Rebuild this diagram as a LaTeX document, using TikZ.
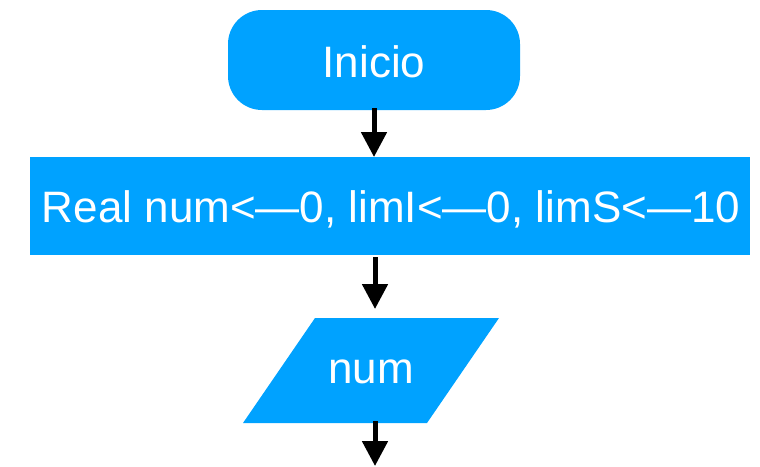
\documentclass[tikz,border=0pt]{standalone}
\usepackage{fontspec}
\setmainfont{Liberation Sans}
\usetikzlibrary{arrows.meta,shapes.geometric}
\definecolor{fcblue}{RGB}{0,162,255}
\tikzset{
  shapebox/.style={fill=fcblue,draw=none},
  boxtext/.style={text=white,font=\fontsize{44}{50}\selectfont,inner sep=0pt},
  flowarrow/.style={line width=5pt,-{Triangle[width=25pt,length=25pt]}}
}
\begin{document}
\begin{tikzpicture}[x=1pt,y=-1pt]
\useasboundingbox (0,0) rectangle (760,466);
\path[shapebox,rounded corners=34pt] (228,10) rectangle (520,110);
\node[boxtext] (inicio) at (374,62) {Inicio};
\coordinate (inicioB) at (374,108);
\path[shapebox] (30,157) rectangle (750,255);
\node[boxtext] (decl) at (391,209) {Real num<—0, limI<—0, limS<—10};
\coordinate (declT) at (374,157);
\coordinate (declB) at (375,257);
\path[shapebox] (315,318) -- (499,318) -- (427,423) -- (243,423) -- cycle;
\node[boxtext] (num) at (371,372) {num};
\coordinate (numT) at (375,309);
\coordinate (numB) at (375,421);
\coordinate (endpt) at (375,466);
\draw[flowarrow] (inicioB) -- (declT);
\draw[flowarrow] (declB) -- (numT);
\draw[flowarrow] (numB) -- (endpt);
\end{tikzpicture}
\end{document}
